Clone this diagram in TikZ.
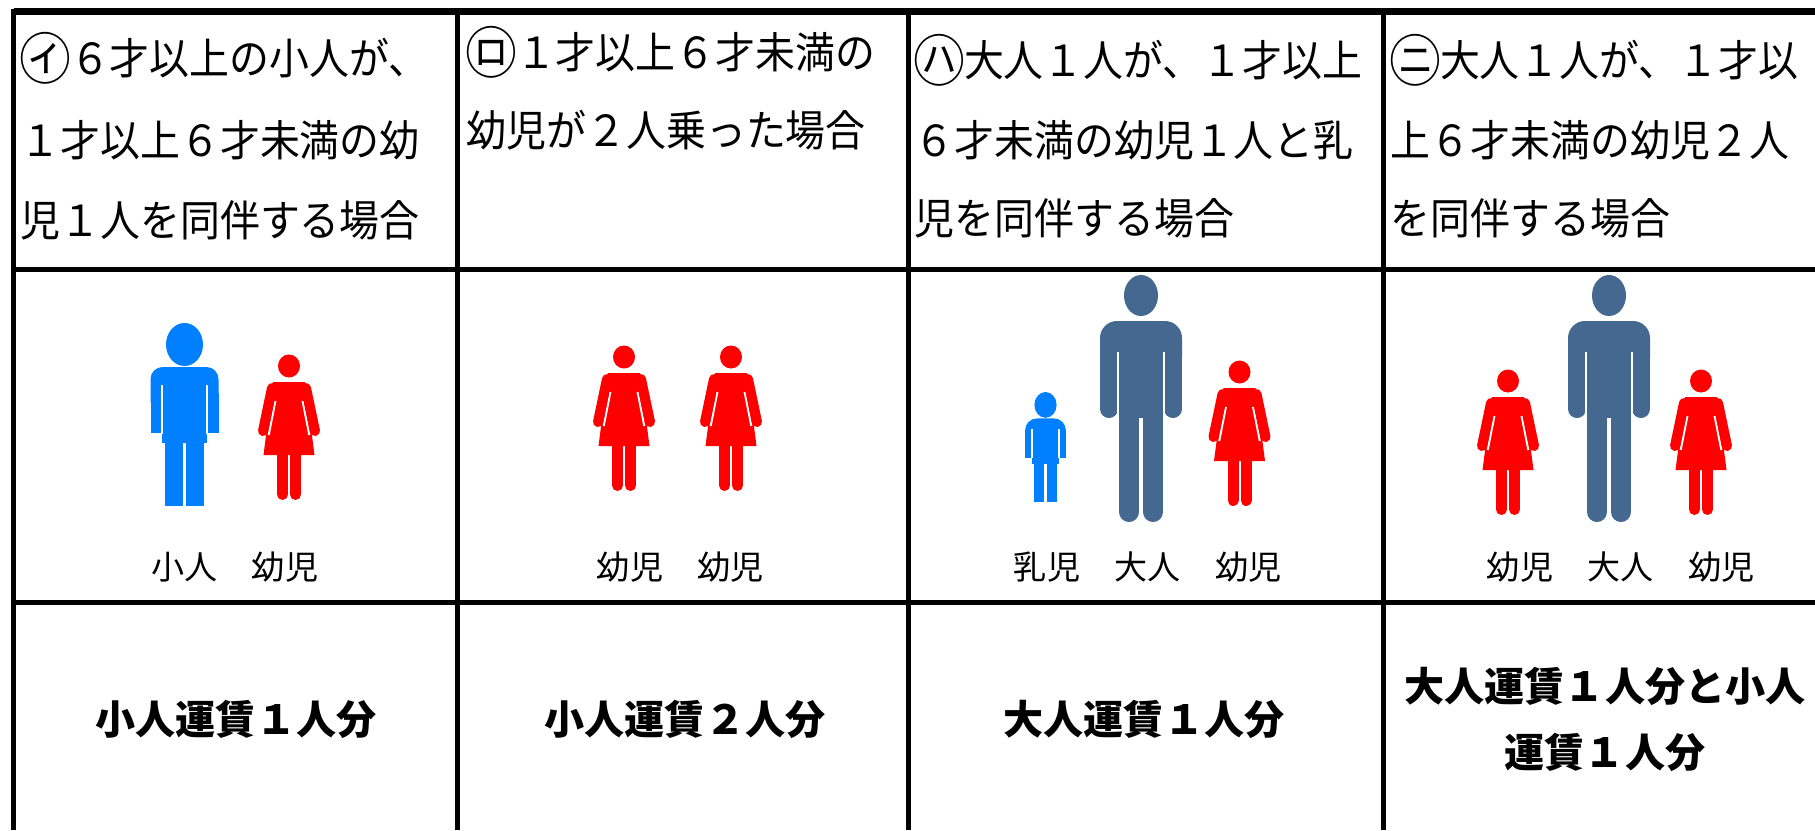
\documentclass[tikz,border=0pt]{standalone}
\usepackage{fontspec}
\setmainfont{Noto Sans CJK JP}
\newfontfamily\casefont[FakeStretch=0.93]{Noto Sans CJK JP}
\usepackage{tikz}
\usetikzlibrary{positioning}
\definecolor{kidblue}{RGB}{0,128,255}
\definecolor{adultblue}{RGB}{68,104,143}
\definecolor{girlred}{RGB}{255,0,0}
\newcommand\maru[1]{\makebox[1.15em]{\raisebox{-0.12em}{\scalebox{1.3}{#1}}}}
\tikzset{
	gridline/.style={line width=0.05cm, black},
	casetext/.style={anchor=west, inner sep=0pt, font=\casefont\fontsize{12.2}{14}\selectfont},
	whotext/.style={inner sep=0pt, font=\fontsize{9.4}{12}\selectfont},
	faretext/.style={inner sep=0pt, align=center, font=\fontsize{11.4}{19}\selectfont\bfseries},
}
% figures, (#1,#2) = centre of head, top
\newcommand\adultfig[2]{%
	\begin{scope}[shift={(#1,#2)}, adultblue]
		\fill (0,20.5) ellipse [x radius=17, y radius=20.5];
		\fill[rounded corners=0.17cm] (-41,100) -- (-41,46) -- (41,46) -- (41,100) -- cycle;
		\fill (-23,80) rectangle (23,143);
		\draw[line width=0.18cm, line cap=round] (-32,70) -- (-32,134);
		\draw[line width=0.18cm, line cap=round] (32,70) -- (32,134);
		\draw[white, line width=0.02cm] (-23,77) -- (-23,143);
		\draw[white, line width=0.02cm] (23,77) -- (23,143);
		\draw[line width=0.2cm, line cap=round] (-12,140) -- (-12,237);
		\draw[line width=0.2cm, line cap=round] (12,140) -- (12,237);
	\end{scope}}
\newcommand\boyfig[3]{%
	\begin{scope}[shift={(#1,#2)}, scale=#3, kidblue]
		\fill (0,21.5) ellipse [x radius=18.5, y radius=21.5];
		\fill[rounded corners=0.12cm] (-34,90) -- (-34,44) -- (34,44) -- (34,90) -- cycle;
		\fill (-34,70) rectangle (34,110);
		\fill (-22.5,100) rectangle (22.5,120);
		\fill (-19.5,119) rectangle (19.5,183);
		\draw[white, line width=0.02cm] (-22.5,62) -- (-22.5,110.5);
		\draw[white, line width=0.02cm] (22.5,62) -- (22.5,110.5);
		\draw[white, line width=0.03cm] (0,120) -- (0,184);
	\end{scope}}
\newcommand\girlfig[2]{%
	\begin{scope}[shift={(#1,#2)}, girlred]
		\fill (0,11) ellipse [x radius=11, y radius=11.5];
		\fill (-16,27) -- (16,27) -- (25.5,100) -- (-25.5,100) -- cycle;
		\draw[white, line width=0.02cm] (-13.6,46) -- (-20.3,80);
		\draw[white, line width=0.02cm] (13.6,46) -- (20.3,80);
		\draw[line width=0.1cm, line cap=round] (-17,33) -- (-26,76);
		\draw[line width=0.1cm, line cap=round] (17,33) -- (26,76);
		\draw[line width=0.11cm, line cap=round] (-6.5,98) -- (-6.5,139.5);
		\draw[line width=0.11cm, line cap=round] (6.5,98) -- (6.5,139.5);
	\end{scope}}

\begin{document}
\begin{tikzpicture}[x=0.01cm, y=-0.01cm]
		%%%%% START %%%%%
		\useasboundingbox (0,0) rectangle (1815,830);
		\fill[white] (0,0) rectangle (1815,830);
		
		% table
		\draw[gridline, line width=0.065cm] (13.5,11.5) -- (1815,11.5);
		\draw[gridline] (13.5,8.5) -- (13.5,830);
		\draw[gridline] (457.5,11.5) -- (457.5,830);
		\draw[gridline] (908.5,11.5) -- (908.5,830);
		\draw[gridline] (1383,11.5) -- (1383,830);
		\draw[gridline] (13.5,269.5) -- (1815,269.5);
		\draw[gridline] (13.5,602) -- (1815,602);
		
		% cases
		\node[casetext] (c1a) at (20,58) {\maru{㋑}６才以上の小人が、};
		\node[casetext] (c1b) at (20,140) {１才以上６才未満の幼};
		\node[casetext] (c1c) at (20,220) {児１人を同伴する場合};
		\node[casetext] (c2a) at (466,52) {\maru{㋺}１才以上６才未満の};
		\node[casetext] (c2b) at (466,130) {幼児が２人乗った場合};
		\node[casetext] (c3a) at (914,60) {\maru{㋩}大人１人が、１才以上};
		\node[casetext] (c3b) at (914,140) {６才未満の幼児１人と乳};
		\node[casetext] (c3c) at (914,218) {児を同伴する場合};
		\node[casetext] (c4a) at (1390,60) {\maru{㋥}大人１人が、１才以};
		\node[casetext] (c4b) at (1390,140) {上６才未満の幼児２人};
		\node[casetext] (c4c) at (1390,218) {を同伴する場合};
		
		% people
		\boyfig{184.5}{323}{1}
		\girlfig{289}{355}
		\girlfig{624}{346}
		\girlfig{731}{346}
		\boyfig{1045.5}{392}{0.6}
		\adultfig{1141}{275}
		\girlfig{1239.5}{361}
		\girlfig{1508}{370}
		\adultfig{1609}{275}
		\girlfig{1701}{370}
		
		\node[whotext] (w1a) at (184.5,567) {小人};
		\node[whotext, right=0.33cm of w1a] (w1b) {幼児};
		\node[whotext] (w2a) at (630,567) {幼児};
		\node[whotext, right=0.33cm of w2a] (w2b) {幼児};
		\node[whotext] (w3a) at (1047,567) {乳児};
		\node[whotext, right=0.33cm of w3a] (w3b) {大人};
		\node[whotext, right=0.33cm of w3b] (w3c) {幼児};
		\node[whotext] (w4a) at (1520,567) {幼児};
		\node[whotext, right=0.33cm of w4a] (w4b) {大人};
		\node[whotext, right=0.33cm of w4b] (w4c) {幼児};
		
		% fares
		\node[faretext] (f1) at (236,719.5) {小人運賃１人分};
		\node[faretext] (f2) at (685,719.5) {小人運賃２人分};
		\node[faretext] (f3) at (1144,719.5) {大人運賃１人分};
		\node[faretext] (f4) at (1605,719.5) {大人運賃１人分と小人\\運賃１人分};
		%%%%% END %%%%%
\end{tikzpicture}
\end{document}
